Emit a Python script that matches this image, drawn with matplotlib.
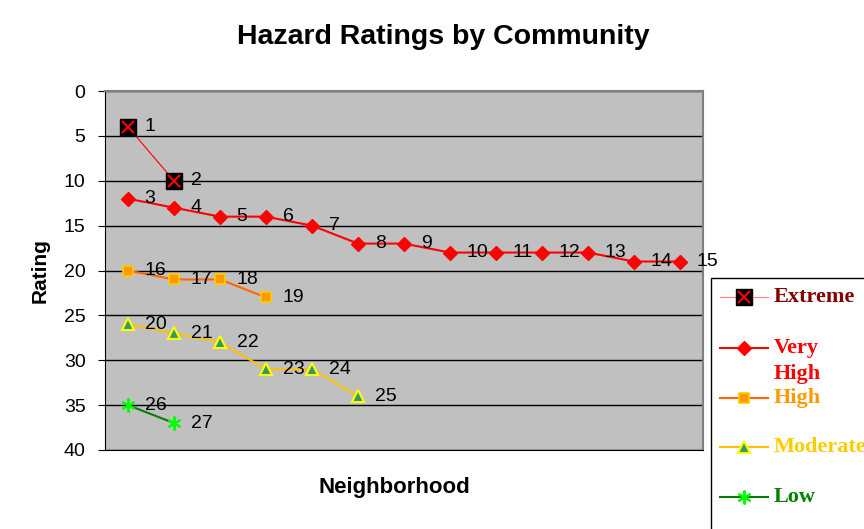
import matplotlib.pyplot as plt
from matplotlib.lines import Line2D
from matplotlib.patches import Rectangle

# Données: numéro du quartier et note
extreme_ids = [1, 2]
extreme_vals = [4, 10]
veryhigh_ids = [3, 4, 5, 6, 7, 8, 9, 10, 11, 12, 13, 14, 15]
veryhigh_vals = [12, 13, 14, 14, 15, 17, 17, 18, 18, 18, 18, 19, 19]
high_ids = [16, 17, 18, 19]
high_vals = [20, 21, 21, 23]
moderate_ids = [20, 21, 22, 23, 24, 25]
moderate_vals = [26, 27, 28, 31, 31, 34]
low_ids = [26, 27]
low_vals = [35, 37]
y_ticks = [0, 5, 10, 15, 20, 25, 30, 35, 40]

series = [
    ("Extreme", extreme_ids, extreme_vals,
     dict(color='red', lw=0.8, marker='s', ms=12, mfc='black', mec='black'), '#800000'),
    ("Very\nHigh", veryhigh_ids, veryhigh_vals,
     dict(color='red', lw=1.5, marker='D', ms=7, mfc='red', mec='red'), 'red'),
    ("High", high_ids, high_vals,
     dict(color='#FF6600', lw=1.5, marker='s', ms=7, mfc='#FF9900', mec='#FFCC00', mew=1.2), '#FF9900'),
    ("Moderate", moderate_ids, moderate_vals,
     dict(color='#FFC000', lw=1.5, marker='^', ms=8, mfc='#339966', mec='#FFFF00', mew=1.5), '#FFCC00'),
    ("Low", low_ids, low_vals,
     dict(color='#008000', lw=1.5, marker=(6, 2, 0), ms=10, mec='#00FF00', mew=1.5), '#008000'),
]

fig = plt.figure(figsize=(8.64, 5.29), dpi=100)
ax = fig.add_axes([105 / 864, 1 - 450 / 529, 598 / 864, 359 / 529])
ax.set_facecolor('#C0C0C0')

for name, ids, vals, style, tcol in series:
    xs = list(range(1, len(ids) + 1))
    ax.plot(xs, vals, **style, zorder=3)
    if name == "Extreme":
        ax.plot(xs, vals, ls='none', marker='x', ms=8, mec='red', mew=1.5, zorder=4)
    for x, v, i in zip(xs, vals, ids):
        ax.annotate(str(i), (x, v), xytext=(12, 0), textcoords='offset points',
                    ha='left', va='center', fontsize=14, family='Liberation Sans', zorder=5)

ax.set_xlim(0.5, 13.5)
ax.set_ylim(40, 0)
ax.set_yticks(y_ticks)
ax.set_xticks([])
ax.tick_params(axis='y', labelsize=14, length=5, direction='out', pad=9)
for lab in ax.get_yticklabels():
    lab.set_family('Liberation Sans')
ax.yaxis.grid(True, color='black', lw=1)
ax.set_axisbelow(True)
for s in ['top', 'right']:
    ax.spines[s].set_color('#808080')
    ax.spines[s].set_linewidth(1.5)
ax.spines['left'].set_color('black')
ax.spines['bottom'].set_color('black')

ax.set_ylabel('Rating', fontsize=15, fontweight='bold', family='Liberation Sans', labelpad=10)
fig.text(394 / 864, 1 - 488 / 529, 'Neighborhood', ha='center', va='center',
         fontsize=16, fontweight='bold', family='Liberation Sans')
fig.text(443 / 864, 1 - 37 / 529, 'Hazard Ratings by Community', ha='center', va='center',
         fontsize=20.5, fontweight='bold', family='Liberation Sans')

# Légende dessinée à la main
fig.add_artist(Rectangle((711 / 864, -0.01), 0.2, 1 - 278 / 529 + 0.01,
                         transform=fig.transFigure, fill=False, ec='black', lw=1))
legend_y = [297, 348, 398, 447, 497]
for (name, ids, vals, style, tcol), yy in zip(series, legend_y):
    fy = 1 - yy / 529
    lcol = '#FF8080' if name == "Extreme" else style['color']
    fig.add_artist(Line2D([720 / 864, 768 / 864], [fy, fy], transform=fig.transFigure,
                          color=lcol, lw=style['lw']))
    ms = 11 if name == "Extreme" else style['ms']
    fig.add_artist(Line2D([744 / 864], [fy], transform=fig.transFigure, ls='none',
                          marker=style['marker'], ms=ms, mfc=style.get('mfc', 'none'),
                          mec=style['mec'], mew=style.get('mew', 1)))
    if name == "Extreme":
        fig.add_artist(Line2D([744 / 864], [fy], transform=fig.transFigure, ls='none',
                              marker='x', ms=8, mec='red', mew=1.5))
    va = 'center'
    if '\n' in name:
        va = 'top'
        fy += 10 / 529
    fig.text(774 / 864, fy, name, ha='left', va=va, color=tcol, fontsize=16,
             fontweight='bold', family='Liberation Serif', linespacing=1.4)

fig.savefig('out.png', dpi=100)
